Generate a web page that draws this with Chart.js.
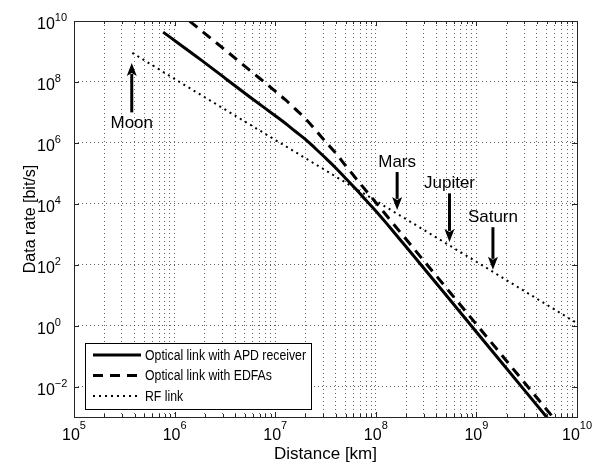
<!DOCTYPE html>
<html>
<head>
<meta charset="utf-8">
<script src="https://cdn.jsdelivr.net/npm/chart.js@4/dist/chart.umd.min.js"></script>
<style>
  html, body { margin: 0; padding: 0; background: #fff; }
  canvas { display: block; }
</style>
</head>
<body>
<canvas id="rateChart" width="601" height="468"></canvas>
<script>
// distance in km, data rate in bit/s
var apdDistance = [7.7e5, 1.8e6, 3.2e6, 5.6e6, 1e7, 1.26e7, 1.58e7, 2e7, 2.5e7, 3.16e7, 4e7, 5e7, 6.3e7, 7.9e7, 1e8, 1.26e8, 1.58e8, 2e8, 1e9, 3.16e9, 6.3e9];
var apdRate = [4.3e9, 5.5e8, 1.3e8, 3.2e7, 7.8e6, 4.4e6, 2.4e6, 1.3e6, 6.6e5, 3.2e5, 1.5e5, 6.9e4, 3.1e4, 1.35e4, 5.8e3, 2.4e3, 980, 390, 0.62, 6.2e-3, 3.9e-4];
var edfaDistance = [7.7e5, 1.48e6, 3.2e6, 5.6e6, 1e7, 1.26e7, 1.58e7, 2e7, 2.5e7, 3.16e7, 4e7, 5e7, 1e8, 1e9, 6.3e9];
var edfaRate = [5e10, 8.7e9, 1.1e9, 2.4e8, 5e7, 2.6e7, 1.3e7, 6.2e6, 2.7e6, 1.1e6, 4.6e5, 1.8e5, 1.1e4, 1.1, 6.9e-4];
var rfDistance = [3.8e5, 1e6, 1e7, 1e8, 1e9, 1e10];
var rfRate = [9e8, 1.25e8, 1.25e6, 1.25e4, 125, 1.2];

var seriesLabels = ['Optical link with APD receiver', 'Optical link with EDFAs', 'RF link'];

// planet markers: arrow from tail to tip at the given distance
var bodies = ['Moon', 'Mars', 'Jupiter', 'Saturn'];
var bodyDistance = [3.75e5, 1.63e8, 5.4e8, 1.46e9];
var arrowTail = [1.0e7, 1.1e5, 2.2e4, 1.7e3];
var arrowTip = [4.2e8, 6.3e3, 5.6e2, 68];

var xTickExponents = [5, 6, 7, 8, 9, 10];
var yTickExponents = [-2, 0, 2, 4, 6, 8, 10];
var minorSteps = [2, 3, 4, 5, 6, 7, 8, 9];

var FONT = '"Liberation Sans", Arial, Helvetica, sans-serif';

function toPoints(xs, ys) {
    return xs.map(function(x, i) { return { x: x, y: ys[i] }; });
}

var xGridValues = [];
var xMajorValues = [];
xTickExponents.forEach(function(e) {
    xGridValues.push(Math.pow(10, e));
    xMajorValues.push(Math.pow(10, e));
    if (e < 10) minorSteps.forEach(function(m) { xGridValues.push(m * Math.pow(10, e)); });
});

function drawArrow(ctx, x, yTail, yTip) {
    var dir = yTip < yTail ? -1 : 1;
    var headLen = 13, headHalf = 5;
    ctx.lineWidth = 3;
    ctx.beginPath();
    ctx.moveTo(x, yTail);
    ctx.lineTo(x, yTip - dir * (headLen - 2));
    ctx.stroke();
    ctx.beginPath();
    ctx.moveTo(x, yTip);
    ctx.lineTo(x - headHalf, yTip - dir * headLen);
    ctx.lineTo(x, yTip - dir * (headLen - 3));
    ctx.lineTo(x + headHalf, yTip - dir * headLen);
    ctx.closePath();
    ctx.fill();
}

function powerLabel(ctx, exp) {
    ctx.font = '16px ' + FONT;
    var wBase = ctx.measureText('10').width;
    ctx.font = '11px ' + FONT;
    var expText = exp < 0 ? '\u2212' + (-exp) : String(exp);
    var wExp = ctx.measureText(expText).width;
    return { expText: expText, wBase: wBase, wExp: wExp };
}

var decorPlugin = {
    id: 'decor',
    afterDraw: function(chart) {
        var ctx = chart.ctx;
        var a = chart.chartArea;
        var xs = chart.scales.x, ys = chart.scales.y;
        ctx.save();

        // frame
        ctx.strokeStyle = '#262626';
        ctx.lineWidth = 1;
        ctx.strokeRect(Math.round(a.left) + 0.5, Math.round(a.top) + 0.5, Math.round(a.right - a.left), Math.round(a.bottom - a.top));

        // inward ticks
        ctx.beginPath();
        xGridValues.forEach(function(v) {
            var px = Math.round(xs.getPixelForValue(v)) + 0.5;
            var len = xMajorValues.indexOf(v) >= 0 ? 5 : 3;
            ctx.moveTo(px, a.bottom); ctx.lineTo(px, a.bottom - len);
            ctx.moveTo(px, a.top); ctx.lineTo(px, a.top + len);
        });
        yTickExponents.forEach(function(e) {
            var py = Math.round(ys.getPixelForValue(Math.pow(10, e))) + 0.5;
            ctx.moveTo(a.left, py); ctx.lineTo(a.left + 5, py);
            ctx.moveTo(a.right, py); ctx.lineTo(a.right - 5, py);
        });
        ctx.stroke();

        // tick labels
        ctx.fillStyle = '#000';
        ctx.textAlign = 'left';
        ctx.textBaseline = 'alphabetic';
        xTickExponents.forEach(function(e) {
            var px = xs.getPixelForValue(Math.pow(10, e));
            var m = powerLabel(ctx, e);
            var x0 = px - (m.wBase + m.wExp) / 2;
            ctx.font = '16px ' + FONT;
            ctx.fillText('10', x0, a.bottom + 23);
            ctx.font = '11px ' + FONT;
            ctx.fillText(m.expText, x0 + m.wBase, a.bottom + 12);
        });
        yTickExponents.forEach(function(e) {
            var py = ys.getPixelForValue(Math.pow(10, e));
            var m = powerLabel(ctx, e);
            var x0 = a.left - 37;
            ctx.font = '16px ' + FONT;
            ctx.fillText('10', x0, py + 8);
            ctx.font = '11px ' + FONT;
            ctx.fillText(m.expText, x0 + m.wBase, py);
        });

        // axis titles
        ctx.font = '17px ' + FONT;
        ctx.textAlign = 'center';
        ctx.textBaseline = 'middle';
        ctx.fillText('Distance [km]', (a.left + a.right) / 2, a.bottom + 37);
        ctx.save();
        ctx.translate(31, (a.top + a.bottom) / 2);
        ctx.rotate(-Math.PI / 2);
        ctx.font = '16px ' + FONT;
        ctx.fillText('Data rate [bit/s]', 0, 0);
        ctx.restore();

        // planet arrows
        ctx.fillStyle = '#000';
        ctx.strokeStyle = '#000';
        bodies.forEach(function(name, i) {
            var px = xs.getPixelForValue(bodyDistance[i]);
            var yTail = ys.getPixelForValue(arrowTail[i]);
            var yTip = ys.getPixelForValue(arrowTip[i]);
            drawArrow(ctx, px, yTail, yTip);
            ctx.font = '17px ' + FONT;
            ctx.textAlign = 'center';
            ctx.textBaseline = 'middle';
            var up = yTip < yTail;
            ctx.fillText(name, px, up ? yTail + 11 : yTail - 10);
        });

        // legend box inside the axes
        var lx = 85, ly = 343, lw = 226, lh = 66;
        ctx.fillStyle = '#fff';
        ctx.fillRect(lx, ly, lw, lh);
        ctx.strokeStyle = '#000';
        ctx.lineWidth = 1;
        ctx.setLineDash([]);
        ctx.strokeRect(lx + 0.5, ly + 0.5, lw, lh);
        var rows = [355, 375.5, 396];
        ctx.font = '14px ' + FONT;
        var longest = Math.max.apply(null, chart.data.datasets.map(function(ds) { return ctx.measureText(ds.label).width; }));
        var squeeze = Math.min(1, 161 / longest);
        chart.data.datasets.forEach(function(ds, i) {
            ctx.strokeStyle = ds.borderColor;
            ctx.lineWidth = ds.borderWidth;
            ctx.setLineDash(ds.borderDash || []);
            ctx.beginPath();
            ctx.moveTo(93, rows[i]);
            ctx.lineTo(141, rows[i]);
            ctx.stroke();
            ctx.setLineDash([]);
            ctx.fillStyle = '#000';
            ctx.textAlign = 'left';
            ctx.textBaseline = 'middle';
            ctx.save();
            ctx.translate(145, rows[i] + 1);
            ctx.scale(squeeze, 1);
            ctx.fillText(ds.label, 0, 0);
            ctx.restore();
        });

        ctx.restore();
    }
};

var gridStyle = { color: 'rgba(0,0,0,0.6)', lineWidth: 1, drawTicks: false };

var ctx = document.getElementById('rateChart').getContext('2d');
var rateChart = new Chart(ctx, {
    type: 'line',
    data: {
        datasets: [{
            label: seriesLabels[0],
            data: toPoints(apdDistance, apdRate),
            borderColor: '#000',
            borderWidth: 3,
            pointRadius: 0,
            cubicInterpolationMode: 'monotone',
            fill: false
        }, {
            label: seriesLabels[1],
            data: toPoints(edfaDistance, edfaRate),
            borderColor: '#000',
            borderWidth: 3,
            borderDash: [10, 7],
            pointRadius: 0,
            cubicInterpolationMode: 'monotone',
            fill: false
        }, {
            label: seriesLabels[2],
            data: toPoints(rfDistance, rfRate),
            borderColor: '#000',
            borderWidth: 2,
            borderDash: [2, 4],
            pointRadius: 0,
            fill: false
        }]
    },
    options: {
        responsive: false,
        animation: false,
        layout: { padding: { left: 74, top: 21, right: 24, bottom: 51 } },
        plugins: {
            legend: { display: false },
            tooltip: { enabled: false }
        },
        scales: {
            x: {
                type: 'logarithmic',
                min: 1e5,
                max: 1e10,
                ticks: { display: false },
                grid: gridStyle,
                border: { display: false, dash: [1, 3] },
                afterBuildTicks: function(scale) {
                    scale.ticks = xGridValues.map(function(v) { return { value: v }; });
                }
            },
            y: {
                type: 'logarithmic',
                min: 1e-3,
                max: 1e10,
                ticks: { display: false },
                grid: gridStyle,
                border: { display: false, dash: [1, 3] },
                afterBuildTicks: function(scale) {
                    scale.ticks = yTickExponents.map(function(e) { return { value: Math.pow(10, e) }; });
                }
            }
        }
    },
    plugins: [decorPlugin]
});
</script>
</body>
</html>
